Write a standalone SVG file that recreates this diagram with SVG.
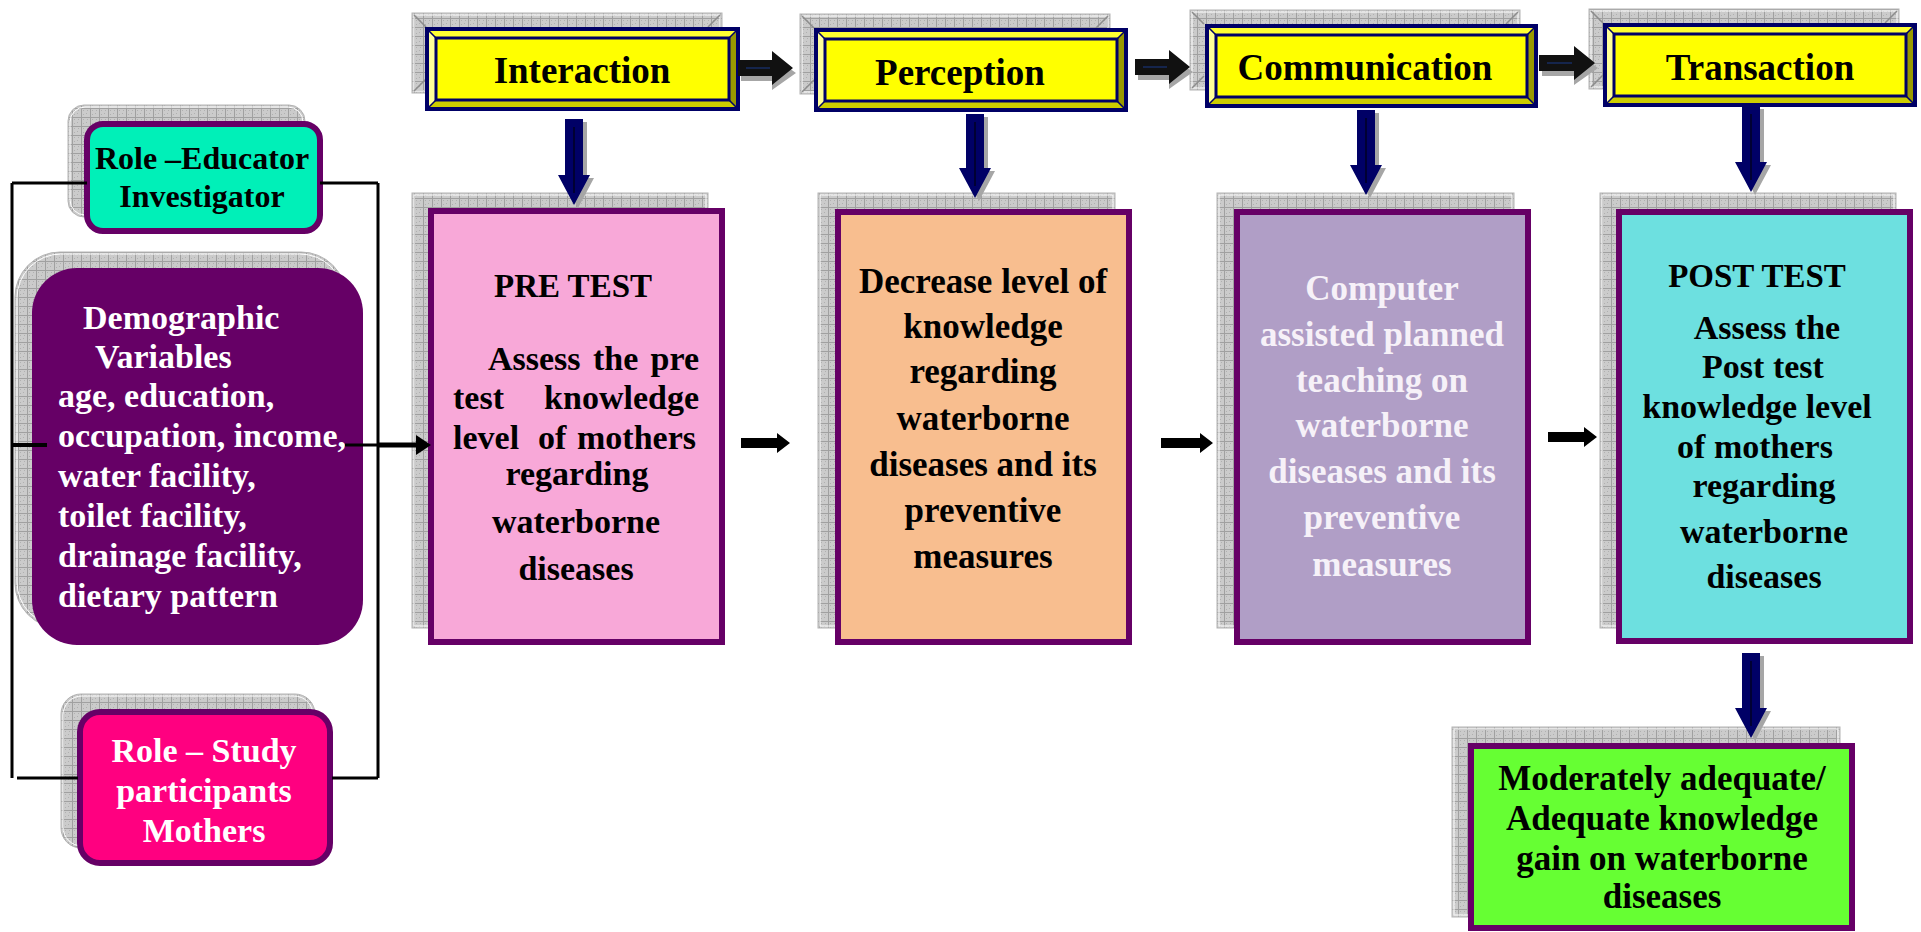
<svg xmlns="http://www.w3.org/2000/svg" width="1921" height="932" viewBox="0 0 1921 932">
<style>
  text { font-family: "Liberation Serif", "Times New Roman", serif; font-weight: bold; }
  .t37 { font-size: 37px; fill: #000; text-anchor: middle; }
  .b34 { font-size: 34px; fill: #000; }
  .b35 { font-size: 35px; fill: #000; text-anchor: middle; }
  .w34 { font-size: 34px; fill: #fff; }
  .mid { text-anchor: middle; }
  .end { text-anchor: end; }
  .shadow { fill: url(#grid); stroke: #b4b4b4; stroke-width: 1; }
  .shin { fill: none; stroke: #ffffff; stroke-width: 1; }
  .sdiag { stroke: #8c8c8c; stroke-width: 1.5; }
  .card { stroke: #660066; stroke-width: 6; }
  .outer { fill: #ffff00; stroke: #000066; stroke-width: 4; }
  .inner { fill: #ffff00; stroke: #000066; stroke-width: 3; }
  .bl { fill: #ffff99; }
  .bt { fill: #ffff33; }
  .br { fill: #999900; }
  .bb { fill: #cccc00; }
  .bd { stroke: #000066; stroke-width: 1.5; }
  .harrow { fill: #111111; }
  .hshadow { fill: #a6a6a6; }
  .hline { stroke: #1a3a8a; stroke-width: 1; }
  .darrow { fill: #000066; }
  .dshadow { fill: #a6a6a6; }
  .dline { stroke: #000; stroke-width: 1; }
  .wire { fill: none; stroke: #000; stroke-width: 3; }
</style>
<defs>
  <pattern id="grid" width="9" height="9" patternUnits="userSpaceOnUse">
    <rect width="9" height="9" fill="#cbcbcb"/>
    <rect x="2" y="2" width="1" height="1" fill="#b0b0b0"/>
    <rect x="5" y="5" width="1" height="1" fill="#b0b0b0"/>
    <rect x="2" y="6" width="1" height="1" fill="#b0b0b0"/>
    <rect x="6" y="2" width="1" height="1" fill="#b0b0b0"/>
    <path d="M0 0.5H9M0.5 0V9" stroke="#a0a0a0" stroke-width="1"/>
  </pattern>
</defs>
<rect width="1921" height="932" fill="#ffffff"/>

<!-- concept boxes (bevelled) -->
<g id="interaction">
  <rect class="shadow" x="412" y="13" width="310" height="80"/>
  <rect class="shin" x="414" y="15" width="306" height="76"/>
  <path class="sdiag" d="M414 15L426 27M720 15L708 27M414 91L426 79M720 91L708 79"/>
  <rect class="outer" x="427" y="29" width="311" height="80"/>
  <polygon class="bt" points="427,29 738,29 729,38 436,38"/>
  <polygon class="bl" points="427,29 436,38 436,100 427,109"/>
  <polygon class="br" points="738,29 738,109 729,100 729,38"/>
  <polygon class="bb" points="427,109 738,109 729,100 436,100"/>
  <path class="bd" d="M427 29L436 38M738 29L729 38M427 109L436 100M738 109L729 100"/>
  <rect class="inner" x="436" y="38" width="293" height="62"/>
  <rect x="427" y="29" width="311" height="80" fill="none" stroke="#000066" stroke-width="4"/>
  <text class="t37" x="582" y="83">Interaction</text>
</g>

<g id="perception">
  <rect class="shadow" x="800" y="14" width="310" height="80"/>
  <rect class="shin" x="802" y="16" width="306" height="76"/>
  <path class="sdiag" d="M802 16L814 28M1108 16L1096 28M802 92L814 80M1108 92L1096 80"/>
  <rect class="outer" x="816" y="30" width="310" height="80"/>
  <polygon class="bt" points="816,30 1126,30 1117,39 825,39"/>
  <polygon class="bl" points="816,30 825,39 825,101 816,110"/>
  <polygon class="br" points="1126,30 1126,110 1117,101 1117,39"/>
  <polygon class="bb" points="816,110 1126,110 1117,101 825,101"/>
  <path class="bd" d="M816 30L825 39M1126 30L1117 39M816 110L825 101M1126 110L1117 101"/>
  <rect class="inner" x="825" y="39" width="292" height="62"/>
  <rect x="816" y="30" width="310" height="80" fill="none" stroke="#000066" stroke-width="4"/>
  <text class="t37" x="960" y="85">Perception</text>
</g>

<g id="communication">
  <rect class="shadow" x="1190" y="10" width="330" height="80"/>
  <rect class="shin" x="1192" y="12" width="326" height="76"/>
  <path class="sdiag" d="M1192 12L1204 24M1518 12L1506 24M1192 88L1204 76M1518 88L1506 76"/>
  <rect class="outer" x="1207" y="26" width="329" height="80"/>
  <polygon class="bt" points="1207,26 1536,26 1527,35 1216,35"/>
  <polygon class="bl" points="1207,26 1216,35 1216,97 1207,106"/>
  <polygon class="br" points="1536,26 1536,106 1527,97 1527,35"/>
  <polygon class="bb" points="1207,106 1536,106 1527,97 1216,97"/>
  <path class="bd" d="M1207 26L1216 35M1536 26L1527 35M1207 106L1216 97M1536 106L1527 97"/>
  <rect class="inner" x="1216" y="35" width="311" height="62"/>
  <rect x="1207" y="26" width="329" height="80" fill="none" stroke="#000066" stroke-width="4"/>
  <text class="t37" x="1365" y="80">Communication</text>
</g>

<g id="transaction">
  <rect class="shadow" x="1589" y="9" width="310" height="80"/>
  <rect class="shin" x="1591" y="11" width="306" height="76"/>
  <path class="sdiag" d="M1591 11L1603 23M1897 11L1885 23M1591 87L1603 75M1897 87L1885 75"/>
  <rect class="outer" x="1605" y="25" width="310" height="80"/>
  <polygon class="bt" points="1605,25 1915,25 1906,34 1614,34"/>
  <polygon class="bl" points="1605,25 1614,34 1614,96 1605,105"/>
  <polygon class="br" points="1915,25 1915,105 1906,96 1906,34"/>
  <polygon class="bb" points="1605,105 1915,105 1906,96 1614,96"/>
  <path class="bd" d="M1605 25L1614 34M1915 25L1906 34M1605 105L1614 96M1915 105L1906 96"/>
  <rect class="inner" x="1614" y="34" width="292" height="62"/>
  <rect x="1605" y="25" width="310" height="80" fill="none" stroke="#000066" stroke-width="4"/>
  <text class="t37" x="1760" y="80">Transaction</text>
</g>

<!-- left-hand role boxes -->
<g id="role-educator">
  <rect class="shadow" x="68" y="105" width="237" height="112" rx="16"/>
  <rect class="shin" x="70" y="107" width="233" height="108" rx="15"/>
  <rect class="card" x="87" y="124" width="233" height="107" rx="16" fill="#00f0b8" stroke-width="5"/>
  <text class="mid" x="202" y="169" font-size="32">Role –Educator</text>
  <text class="mid" x="202" y="207" font-size="32">Investigator</text>
</g>

<g id="demographic">
  <rect class="shadow" x="15" y="252" width="331" height="376" rx="45"/>
  <rect class="shin" x="17" y="254" width="327" height="372" rx="44"/>
  <rect x="32" y="268" width="331" height="377" rx="45" fill="#660066"/>
  <text class="w34" x="83" y="329">Demographic</text>
  <text class="w34" x="95" y="368">Variables</text>
  <text class="w34" x="58" y="407">age, education,</text>
  <text class="w34" x="58" y="447">occupation, income,</text>
  <text class="w34" x="58" y="487">water facility,</text>
  <text class="w34" x="58" y="527">toilet facility,</text>
  <text class="w34" x="58" y="567">drainage facility,</text>
  <text class="w34" x="58" y="607">dietary pattern</text>
</g>

<g id="role-participants">
  <rect class="shadow" x="61" y="694" width="254" height="154" rx="20"/>
  <rect class="shin" x="63" y="696" width="250" height="150" rx="19"/>
  <rect class="card" x="80" y="712" width="250" height="151" rx="20" fill="#ff0080" stroke-width="5"/>
  <text class="w34 mid" x="204" y="762">Role – Study</text>
  <text class="w34 mid" x="204" y="802">participants</text>
  <text class="w34 mid" x="204" y="842">Mothers</text>
</g>

<!-- stage boxes -->
<g id="pre-test">
  <rect class="shadow" x="412" y="193" width="296" height="435"/>
  <rect class="shin" x="414" y="195" width="292" height="431"/>
  <rect class="card" x="431" y="211" width="291" height="431" fill="#f8a8d8"/>
  <text class="mid" x="573" y="297" font-size="33">PRE TEST</text>
  <text class="b34" x="488" y="370">Assess</text>
  <text class="b34" x="593" y="370">the</text>
  <text class="b34 end" x="699" y="370">pre</text>
  <text class="b34" x="453" y="409">test</text>
  <text class="b34 end" x="699" y="409">knowledge</text>
  <text class="b34" x="453" y="449">level</text>
  <text class="b34" x="538" y="449">of</text>
  <text class="b34 end" x="696" y="449">mothers</text>
  <text class="b34 mid" x="577" y="485">regarding</text>
  <text class="b34 mid" x="576" y="533">waterborne</text>
  <text class="b34 mid" x="576" y="580">diseases</text>
</g>

<g id="knowledge-deficit">
  <rect class="shadow" x="818" y="193" width="297" height="435"/>
  <rect class="shin" x="820" y="195" width="293" height="431"/>
  <rect class="card" x="838" y="212" width="291" height="430" fill="#f8be8f"/>
  <text class="b35" x="983" y="293">Decrease level of</text>
  <text class="b35" x="983" y="338">knowledge</text>
  <text class="b35" x="983" y="383">regarding</text>
  <text class="b35" x="983" y="430">waterborne</text>
  <text class="b35" x="983" y="476">diseases and its</text>
  <text class="b35" x="983" y="522">preventive</text>
  <text class="b35" x="983" y="568">measures</text>
</g>

<g id="teaching">
  <rect class="shadow" x="1217" y="193" width="297" height="435"/>
  <rect class="shin" x="1219" y="195" width="293" height="431"/>
  <rect class="card" x="1237" y="212" width="291" height="430" fill="#b09ec6"/>
  <g fill="#f6f1f8" font-size="35" text-anchor="middle">
    <text x="1382" y="300">Computer</text>
    <text x="1382" y="346">assisted planned</text>
    <text x="1382" y="392">teaching on</text>
    <text x="1382" y="437">waterborne</text>
    <text x="1382" y="483">diseases and its</text>
    <text x="1382" y="529">preventive</text>
    <text x="1382" y="576">measures</text>
  </g>
</g>

<g id="post-test">
  <rect class="shadow" x="1600" y="193" width="296" height="435"/>
  <rect class="shin" x="1602" y="195" width="292" height="431"/>
  <rect class="card" x="1619" y="212" width="291" height="429" fill="#6de0e0"/>
  <text class="mid" x="1757" y="287" font-size="33">POST TEST</text>
  <text class="b34 mid" x="1767" y="339">Assess the</text>
  <text class="b34 mid" x="1763" y="378">Post test</text>
  <text class="b34 mid" x="1757" y="418">knowledge level</text>
  <text class="b34 mid" x="1755" y="458">of mothers</text>
  <text class="b34 mid" x="1764" y="497">regarding</text>
  <text class="b34 mid" x="1764" y="543">waterborne</text>
  <text class="b34 mid" x="1764" y="588">diseases</text>
</g>

<g id="outcome">
  <rect class="shadow" x="1452" y="727" width="388" height="190"/>
  <rect class="shin" x="1454" y="729" width="384" height="186"/>
  <rect class="card" x="1471" y="746" width="381" height="182" fill="#66ff33"/>
  <text class="b35" x="1662" y="790">Moderately adequate/</text>
  <text class="b35" x="1662" y="830">Adequate knowledge</text>
  <text class="b35" x="1662" y="870">gain on waterborne</text>
  <text class="b35" x="1662" y="908">diseases</text>
</g>

<!-- connectors, drawn over the box shadows -->
<g id="connectors">
  <!-- bracket joining the three left-hand boxes -->
  <path class="wire" d="M12 183H87M320 183H378M12 183V778M378 183V778M17 778H78M332 778H378"/>
  <path d="M12 445H47" stroke="#000" stroke-width="4"/>
  <path d="M345 445H380" stroke="#000" stroke-width="3"/>
  <path d="M379 445H418" stroke="#000" stroke-width="5"/>
  <polygon points="416,435 431,445 416,455" fill="#000"/>

  <!-- block arrows between concept boxes -->
  <polygon class="hshadow" points="741,68 772,68 772,56 796,73 772,90 772,81 741,81"/>
  <polygon class="harrow" points="738,60 772,60 772,51 793,68 772,85 772,76 738,76"/>
  <path class="hline" d="M746 68H770"/>
  <polygon class="hshadow" points="1138,67 1169,67 1169,55 1193,72 1169,89 1169,80 1138,80"/>
  <polygon class="harrow" points="1135,59 1169,59 1169,50 1190,67 1169,84 1169,75 1135,75"/>
  <path class="hline" d="M1143 67H1167"/>
  <polygon class="hshadow" points="1542,63 1574,63 1574,51 1598,68 1574,85 1574,76 1542,76"/>
  <polygon class="harrow" points="1539,55 1574,55 1574,46 1595,63 1574,80 1574,71 1539,71"/>
  <path class="hline" d="M1547 63H1572"/>

  <!-- downward arrows from concepts to stages -->
  <polygon class="dshadow" points="569,122 587,122 587,178 594,178 578,208 562,178 569,178"/>
  <polygon class="darrow" points="565,119 583,119 583,175 590,175 574,205 558,175 565,175"/>
  <path class="dline" d="M574 127V193"/>
  <polygon class="dshadow" points="970,117 988,117 988,171 995,171 979,201 963,171 970,171"/>
  <polygon class="darrow" points="966,114 984,114 984,168 991,168 975,198 959,168 966,168"/>
  <path class="dline" d="M975 122V186"/>
  <polygon class="dshadow" points="1361,113 1379,113 1379,168 1386,168 1370,198 1354,168 1361,168"/>
  <polygon class="darrow" points="1357,110 1375,110 1375,165 1382,165 1366,195 1350,165 1357,165"/>
  <path class="dline" d="M1366 118V183"/>
  <polygon class="dshadow" points="1746,109 1764,109 1764,165 1771,165 1755,195 1739,165 1746,165"/>
  <polygon class="darrow" points="1742,106 1760,106 1760,162 1767,162 1751,192 1735,162 1742,162"/>
  <path class="dline" d="M1751 114V180"/>
  <polygon class="dshadow" points="1746,656 1764,656 1764,711 1771,711 1755,741 1739,711 1746,711"/>
  <polygon class="darrow" points="1742,653 1760,653 1760,708 1767,708 1751,738 1735,708 1742,708"/>
  <path class="dline" d="M1751 661V726"/>

  <!-- small arrows between stages -->
  <polygon points="741,438 777,438 777,433 790,443 777,453 777,448 741,448" fill="#000"/>
  <polygon points="1161,438 1200,438 1200,433 1213,443 1200,453 1200,448 1161,448" fill="#000"/>
  <polygon points="1548,432 1584,432 1584,427 1597,437 1584,447 1584,442 1548,442" fill="#000"/>
</g>
</svg>
